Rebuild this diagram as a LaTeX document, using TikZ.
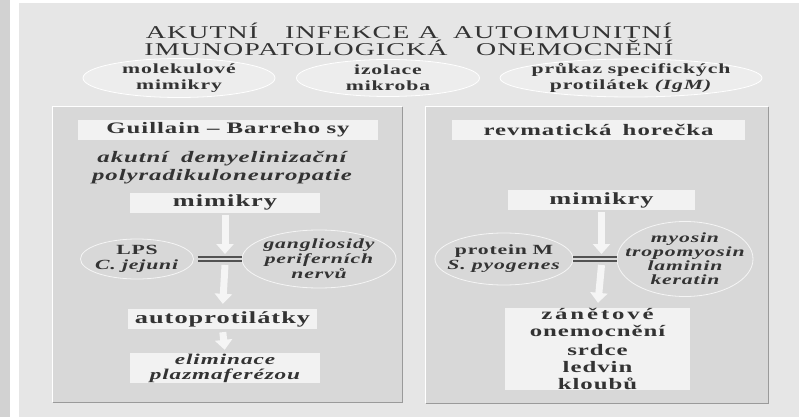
\documentclass[tikz,border=0pt]{standalone}
\usepackage{fontspec}
\setmainfont{Liberation Serif}[FakeStretch=1.55, LetterSpace=6]
\usetikzlibrary{shapes.geometric, arrows.meta, calc}
\definecolor{mInk}{HTML}{333333}
\definecolor{mBg}{HTML}{E6E6E6}
\definecolor{mStrip}{HTML}{D2D2D2}
\definecolor{mPanel}{HTML}{D8D8D8}
\definecolor{mBox}{HTML}{F2F2F2}
\definecolor{mOval}{HTML}{EDEDED}
\definecolor{mEdge}{HTML}{9A9A9A}
\definecolor{mArrow}{HTML}{F5F5F5}

\begin{document}
\begin{tikzpicture}[
  x=1pt, y=-1pt,
  every node/.style={text=mInk},
  ttl/.style={font=\fontsize{18}{17}\selectfont, align=center},
  hdr/.style={fill=mBox, inner sep=0pt, minimum height=20pt,
              font=\fontsize{16}{18}\selectfont\bfseries},
  box/.style={fill=mBox, inner sep=0pt, minimum height=20pt, align=center,
              font=\fontsize{17}{17}\selectfont\bfseries},
  oval/.style={ellipse, draw=white, line width=0.8pt, fill=mOval, align=center,
               inner xsep=-14pt, inner ysep=-4pt, font=\fontsize{14}{16}\selectfont\bfseries},
  ring/.style={ellipse, draw=white!75!mPanel, line width=0.8pt, align=center,
               inner xsep=-14pt, inner ysep=-4pt, font=\fontsize{14}{15}\selectfont\bfseries},
  panel/.style={fill=mPanel, inner sep=0pt},
  blk/.style={draw=mArrow, line width=7pt, -{Triangle[width=17pt, length=10pt]}},
  eqline/.style={draw=mInk!85, line width=1.6pt, double=mPanel, double distance=2pt},
]
  \useasboundingbox (0,0) rectangle (799,417);

  % Background
  \fill[white] (0,0) rectangle (799,417);
  \fill[mStrip] (0,0) rectangle (10,417);
  \fill[mBg] (19,3) rectangle (799,417);

  % Title
  \node[ttl] (title) at (409,39)
    {AKUTNÍ\hspace{1.5em}INFEKCE\hspace{0.5em}A\hspace{0.8em}AUTOIMUNITNÍ\\
     IMUNOPATOLOGICKÁ\hspace{1.6em}ONEMOCNĚNÍ};

  % Diagnostic ovals
  \node[oval, minimum width=192pt, minimum height=39pt] (om) at (179,78) {molekulové\\mimikry};
  \node[oval, minimum width=183pt, minimum height=37pt] (oi) at (388,78) {izolace\\mikroba};
  \node[oval, minimum width=262pt, minimum height=38pt] (op) at (631,78)
    {průkaz\hspace{0.4em}specifických\\protilátek \textit{(IgM)}};

  % Panels
  \node[panel, minimum width=349pt, minimum height=295pt] (pL) at (227.5,254.5) {};
  \node[panel, minimum width=342pt, minimum height=296pt] (pR) at (597,255) {};
  \foreach \p in {pL, pR} {
    \draw[white, line width=1pt] (\p.south west) -- (\p.north west) -- (\p.north east);
    \draw[mEdge, line width=1pt] (\p.north east) -- (\p.south east) -- (\p.south west);
  }

  % Guillain-Barre column
  \node[hdr, minimum width=300pt] (hL) at (228,130) {Guillain – Barreho\hspace{0.4em}sy};
  \node[font=\fontsize{16}{18}\selectfont\bfseries\itshape, align=center] (sub) at (222,168)
    {akutní\hspace{0.8em}demyelinizační\\polyradikuloneuropatie};
  \node[box, minimum width=190pt] (mimL) at (225,202.5) {mimikry};
  \node[ring, minimum width=113pt, minimum height=40pt] (lps) at (137,259)
    {LPS\\\textit{C. jejuni}};
  \node[ring, minimum width=154pt, minimum height=58pt] (gang) at (319,259)
    {\itshape gangliosidy\\\itshape periferních\\\itshape nervů};
  \node[box, minimum width=189pt] (autoL) at (222.5,319) {autoprotilátky};
  \node[box, minimum width=190pt, minimum height=30pt, font=\fontsize{15}{15}\selectfont\bfseries\itshape]
    (elim) at (225,368) {eliminace\\plazmaferézou};

  \coordinate (eqL) at (mimL.south |- lps.east);
  \draw[eqline, shorten <=4pt] (lps.east) -- (gang.west);
  \draw[blk, shorten <=2pt] (mimL.south) -- ([yshift=5pt]eqL);
  \draw[blk, shorten >=5pt] ([yshift=-6pt]eqL) -- (autoL.north);
  \draw[blk, shorten <=3pt, shorten >=3pt] (autoL.south) -- (elim.north);

  % Rheumatic fever column
  \node[hdr, minimum width=293pt] (hR) at (598.5,130) {revmatická\hspace{0.7em}horečka};
  \node[box, minimum width=187pt] (mimR) at (601.5,200) {mimikry};
  \node[ring, minimum width=138pt, minimum height=52pt] (prot) at (504,259)
    {protein\hspace{0.4em}M\\\textit{S. pyogenes}};
  \node[ring, minimum width=136pt, minimum height=75pt, font=\fontsize{14}{14}\selectfont\bfseries\itshape]
    (myo) at (685,259) {myosin\\tropomyosin\\laminin\\keratin};
  \node[box, minimum width=185pt, minimum height=82pt, font=\fontsize{16}{17}\selectfont\bfseries]
    (zan) at (597.5,349)
    {{\addfontfeature{LetterSpace=18}zánětové}\\onemocnění\\[2pt]srdce\\ledvin\\kloubů};

  \coordinate (eqR) at (mimR.south |- prot.east);
  \draw[eqline] (prot.east) -- (myo.west);
  \draw[blk, shorten <=2pt] (mimR.south) -- ([yshift=5pt]eqR);
  \draw[blk, shorten >=5pt] ([yshift=-6pt]eqR) -- (zan.north);
\end{tikzpicture}
\end{document}
